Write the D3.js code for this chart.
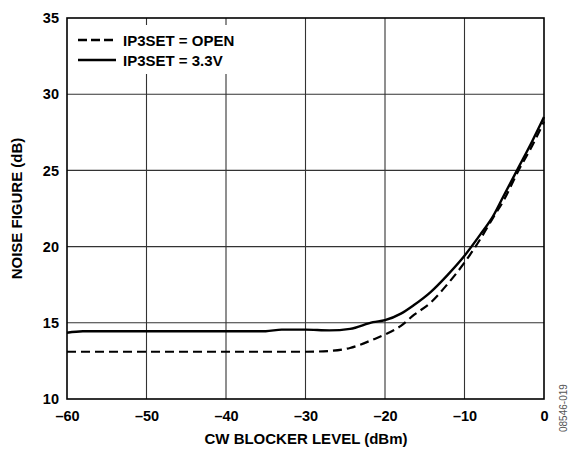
<!DOCTYPE html>
<html>
<head>
<meta charset="utf-8">
<script src="https://cdnjs.cloudflare.com/ajax/libs/d3/7.8.5/d3.min.js"></script>
<style>
  body { margin: 0; background: #fff; }
  text { font-family: Arial, "Liberation Sans", sans-serif; }
</style>
</head>
<body>
<svg id="chart" width="576" height="451"></svg>
<script>
// data
const blocker = [-60, -58, -50, -40, -35, -33, -30, -27, -24.4, -21.5, -20, -18, -16.4, -14.3, -12.2, -10, -8, -6.4, -5.1, -3.2, -1.5, 0];
const nfOpen  = [13.1, 13.1, 13.1, 13.1, 13.1, 13.1, 13.1, 13.15, 13.35, 13.9, 14.23, 14.8, 15.5, 16.3, 17.5, 18.95, 20.5, 21.9, 23.0, 25.0, 26.6, 28.2];
const nf33V   = [14.35, 14.45, 14.45, 14.45, 14.45, 14.55, 14.55, 14.5, 14.6, 15.04, 15.17, 15.6, 16.15, 17.0, 18.1, 19.4, 20.8, 22.0, 23.3, 25.2, 26.9, 28.5];
const xTicks = [-60, -50, -40, -30, -20, -10, 0];
const yTicks = [10, 15, 20, 25, 30, 35];
const legendItems = [
  { label: "IP3SET = OPEN", dash: "9,4" },
  { label: "IP3SET = 3.3V", dash: null }
];

const svg = d3.select("#chart");
const margin = { top: 18, right: 32, bottom: 52, left: 67 };
const width = 576 - margin.left - margin.right;
const height = 451 - margin.top - margin.bottom;
const g = svg.append("g").attr("transform", `translate(${margin.left},${margin.top})`);

const x = d3.scaleLinear().domain([-60, 0]).range([0, width]);
const y = d3.scaleLinear().domain([10, 35]).range([height, 0]);

// grid
g.selectAll("line.vgrid")
  .data(xTicks.slice(1, -1))
  .join("line")
  .attr("x1", d => x(d)).attr("x2", d => x(d))
  .attr("y1", 0).attr("y2", height)
  .attr("stroke", "#333").attr("stroke-width", 1.1);

g.selectAll("line.hgrid")
  .data(yTicks.slice(1, -1))
  .join("line")
  .attr("x1", 0).attr("x2", width)
  .attr("y1", d => y(d)).attr("y2", d => y(d))
  .attr("stroke", "#333").attr("stroke-width", 1.1);

// legend background hides the grid behind it
g.append("rect")
  .attr("x", 2).attr("y", 7)
  .attr("width", 172).attr("height", 49)
  .attr("fill", "#fff");

// curves
const line = d3.line().x((d, i) => x(blocker[i])).y(d => y(d)).curve(d3.curveMonotoneX);

g.append("path")
  .datum(nfOpen)
  .attr("d", line)
  .attr("fill", "none")
  .attr("stroke", "#000")
  .attr("stroke-width", 2.2)
  .attr("stroke-dasharray", "9,5");

g.append("path")
  .datum(nf33V)
  .attr("d", line)
  .attr("fill", "none")
  .attr("stroke", "#000")
  .attr("stroke-width", 2.4);

// frame
g.append("rect")
  .attr("x", 0).attr("y", 0)
  .attr("width", width).attr("height", height)
  .attr("fill", "none")
  .attr("stroke", "#000")
  .attr("stroke-width", 1.6);

// axes (labels only)
const xAxis = d3.axisBottom(x).tickValues(xTicks).tickSize(0).tickPadding(12)
  .tickFormat(d => d === 0 ? "0" : "\u2013" + Math.abs(d));
g.append("g")
  .attr("transform", `translate(0,${height})`)
  .call(xAxis)
  .call(a => a.select(".domain").remove())
  .selectAll("text")
  .attr("font-size", 14.5).attr("font-weight", "bold").attr("fill", "#000");

const yAxis = d3.axisLeft(y).tickValues(yTicks).tickSize(0).tickPadding(8);
g.append("g")
  .call(yAxis)
  .call(a => a.select(".domain").remove())
  .selectAll("text")
  .attr("font-size", 14.5).attr("font-weight", "bold").attr("fill", "#000");

// axis titles
svg.append("text")
  .attr("x", 306).attr("y", 444)
  .attr("text-anchor", "middle")
  .attr("font-size", 15).attr("font-weight", "bold")
  .text("CW BLOCKER LEVEL (dBm)");

svg.append("text")
  .attr("transform", `translate(22,${margin.top + height / 2}) rotate(-90)`)
  .attr("text-anchor", "middle")
  .attr("font-size", 15).attr("font-weight", "bold")
  .text("NOISE FIGURE (dB)");

// legend
const leg = g.selectAll("g.legend")
  .data(legendItems)
  .join("g")
  .attr("transform", (d, i) => `translate(11,${22 + i * 20})`);

leg.append("line")
  .attr("x1", 0).attr("x2", 38)
  .attr("stroke", "#000").attr("stroke-width", 2.4)
  .attr("stroke-dasharray", d => d.dash);

leg.append("text")
  .attr("x", 45).attr("y", 5.5)
  .attr("font-size", 15).attr("font-weight", "bold")
  .text(d => d.label);

// figure code
svg.append("text")
  .attr("transform", "translate(567,432) rotate(-90)")
  .attr("font-size", 10).attr("fill", "#555")
  .text("08546-019");
</script>
</body>
</html>
